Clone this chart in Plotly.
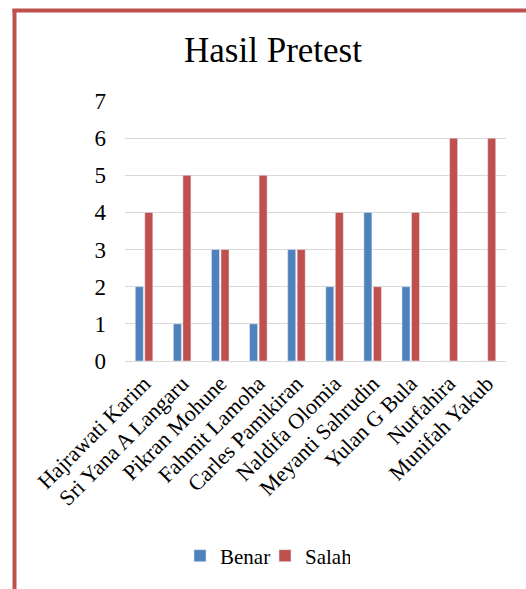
import plotly.graph_objects as go

names = ["Hajrawati Karim", "Sri Yana A Langaru", "Pikran Mohune", "Fahmit Lamoha",
         "Carles Pamikiran", "Naldifa Olomia", "Meyanti Sahrudin", "Yulan G Bula",
         "Nurfahira", "Munifah Yakub"]
benar = [2, 1, 3, 1, 3, 2, 4, 2, 0, 0]
salah = [4, 5, 3, 5, 3, 4, 2, 4, 6, 6]
y_ticks = [0, 1, 2, 3, 4, 5, 6, 7]

W, H = 526, 589
L, R, T, B = 125, 20, 101, 228
pw, ph = W - L - R, H - T - B

def px_x(p):
    return (p - L) / pw

def px_y(p):
    return (H - B - p) / ph

font = "Liberation Serif, Times New Roman, serif"

fig = go.Figure()
fig.add_bar(x=names, y=benar, name="Benar", marker_color="#4F81BD")
fig.add_bar(x=names, y=salah, name="Salah", marker_color="#C0504D")

border = "#C0504D"
fig.update_layout(
    width=W, height=H,
    margin=dict(l=L, r=R, t=T, b=B),
    paper_bgcolor="white", plot_bgcolor="white",
    font=dict(family=font, color="black"),
    barmode="group", bargap=0.5, bargroupgap=0.16,
    title=dict(text="Hasil Pretest", x=273 / W, xanchor="center",
               y=1 - 50 / H, yanchor="middle",
               font=dict(size=35, family=font, color="black")),
    xaxis=dict(tickangle=-45, tickfont=dict(size=22, family=font),
               showgrid=False, showline=True, linecolor="#D9D9D9", linewidth=1,
               ticks=""),
    yaxis=dict(range=[0, 7], tickvals=y_ticks, tickfont=dict(size=23, family=font),
               showgrid=True, gridcolor="#D9D9D9", gridwidth=1, zeroline=False,
               showline=False, ticks="", ticklabelstandoff=18),
    legend=dict(orientation="h", x=px_x(265), xanchor="center",
                y=px_y(556), yanchor="middle", entrywidth=40,
                font=dict(size=21, family=font)),
    shapes=[
        dict(type="line", xref="paper", yref="paper",
             x0=px_x(14.5), x1=px_x(14.5), y0=px_y(9), y1=px_y(620),
             line=dict(color=border, width=4)),
        dict(type="line", xref="paper", yref="paper",
             x0=px_x(12.5), x1=px_x(560), y0=px_y(10.5), y1=px_y(10.5),
             line=dict(color=border, width=4)),
    ],
)

fig.write_html("out.html", config={"displayModeBar": False},
               post_script="document.body.style.margin='0';document.body.style.overflow='hidden';")
